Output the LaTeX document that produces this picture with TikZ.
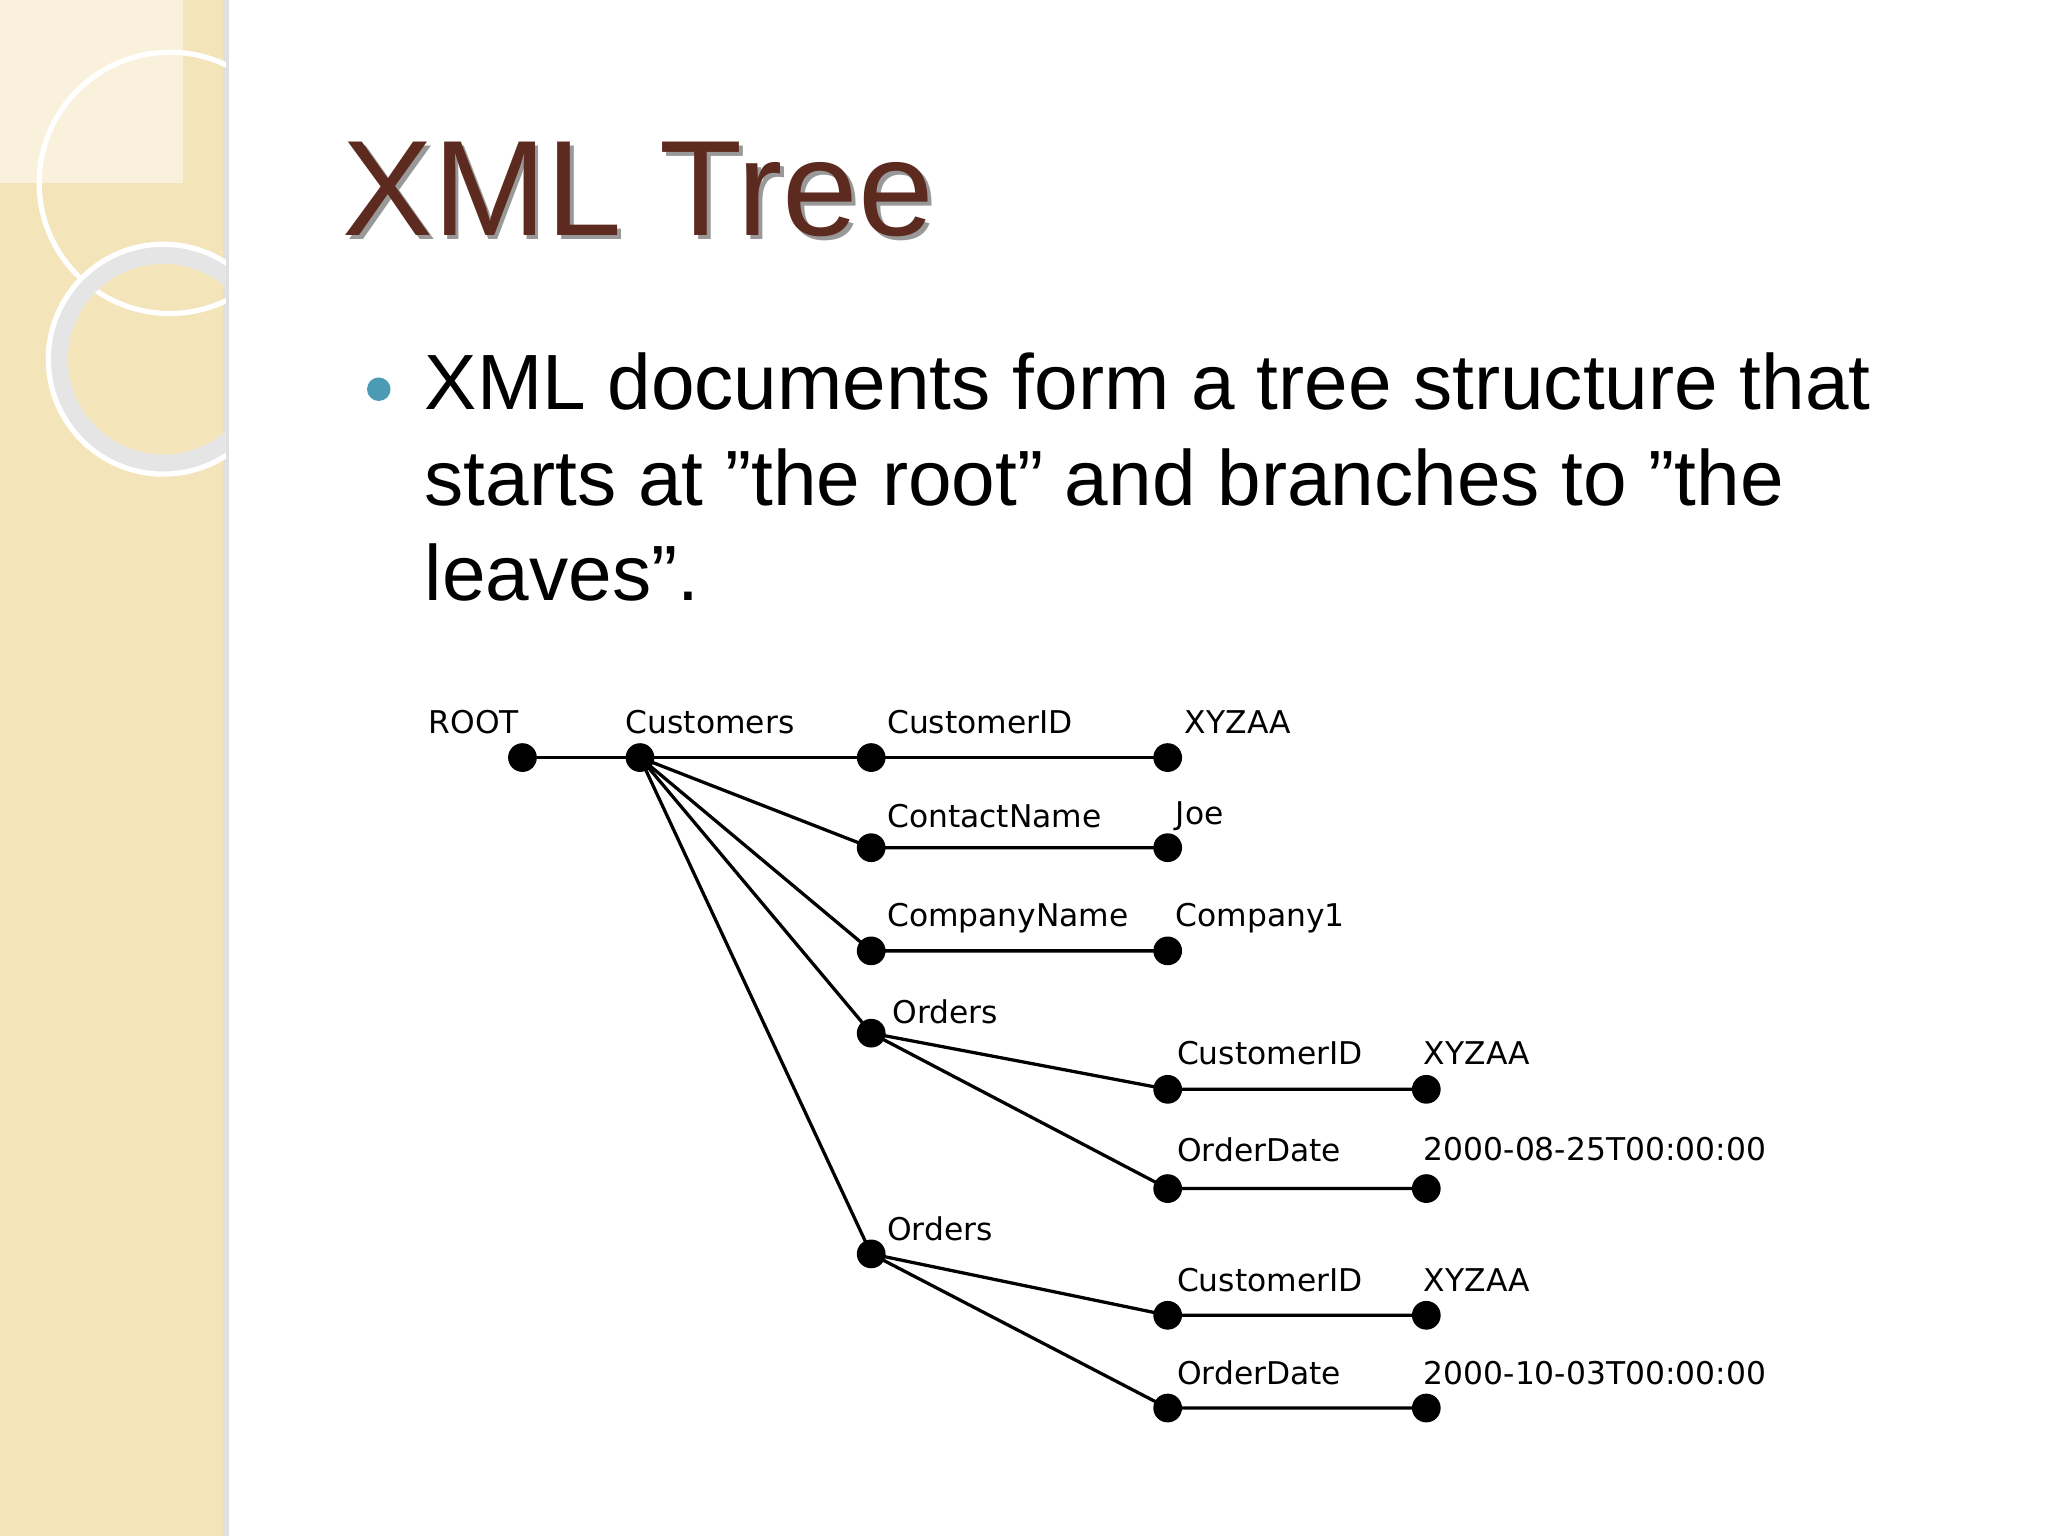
\documentclass[tikz,border=0pt]{standalone}
\usepackage{fontspec}
\setmainfont{Liberation Sans}
\newfontfamily\treefont{DejaVu Sans}
\definecolor{titlebrown}{RGB}{92,42,30}
\definecolor{bullteal}{RGB}{75,155,180}
\definecolor{bandbeige}{RGB}{243,228,186}
\begin{document}
\begin{tikzpicture}[x=1pt,y=-1pt,
  dot/.style={circle,fill=black,inner sep=0pt,minimum size=22pt},
  lbl/.style={anchor=west,inner sep=0pt,font=\treefont\fontsize{24}{28}\selectfont},
  edge/.style={line width=2.5pt}]
\useasboundingbox (0,0) rectangle (1568,1176);
\fill[white] (0,0) rectangle (1568,1176);
\fill[bandbeige] (0,0) rectangle (173,1176);
\fill[black!12] (171,0) rectangle (175,1176);
\begin{scope}
\clip (0,0) rectangle (173,1176);
\draw[white,line width=4pt] (130,140) circle (100);
\draw[black!10,line width=14pt] (125,275) circle (80);
\draw[white,line width=4pt] (125,275) circle (88);
\fill[white,opacity=0.5] (0,0) rectangle (140,140);
\end{scope}
\node[anchor=base west,inner sep=0pt,text=black!40,font=\fontsize{104}{110}\selectfont] at (265,183) {XML Tree};
\node[anchor=base west,inner sep=0pt,text=titlebrown,font=\fontsize{104}{110}\selectfont] (title) at (262,180) {XML Tree};
\fill[bullteal] (290,298) circle (9);
\node[anchor=north west,inner sep=0pt,align=left,font=\fontsize{60}{73}\selectfont] (body) at (325,270) {XML documents form a tree structure that\\starts at "the root" and branches to "the\\leaves".};
% dots
\node[dot] (root) at (400,580) {};
\node[dot] (cust) at (490,580) {};
\node[dot] (cid) at (667,580) {}; \node[dot] (cidv) at (894,580) {};
\node[dot] (cn) at (667,649) {}; \node[dot] (cnv) at (894,649) {};
\node[dot] (co) at (667,728) {}; \node[dot] (cov) at (894,728) {};
\node[dot] (o1) at (667,791) {};
\node[dot] (o1c) at (894,834) {}; \node[dot] (o1cv) at (1092,834) {};
\node[dot] (o1d) at (894,910) {}; \node[dot] (o1dv) at (1092,910) {};
\node[dot] (o2) at (667,960) {};
\node[dot] (o2c) at (894,1007) {}; \node[dot] (o2cv) at (1092,1007) {};
\node[dot] (o2d) at (894,1078) {}; \node[dot] (o2dv) at (1092,1078) {};
\draw[edge] (root.center)--(cust.center)--(cid.center)--(cidv.center);
\draw[edge] (cust.center)--(cn.center)--(cnv.center);
\draw[edge] (cust.center)--(co.center)--(cov.center);
\draw[edge] (cust.center)--(o1.center);
\draw[edge] (cust.center)--(o2.center);
\draw[edge] (o1.center)--(o1c.center)--(o1cv.center);
\draw[edge] (o1.center)--(o1d.center)--(o1dv.center);
\draw[edge] (o2.center)--(o2c.center)--(o2cv.center);
\draw[edge] (o2.center)--(o2d.center)--(o2dv.center);
% labels
\node[lbl] (l1) at (328,553) {ROOT};
\node[lbl] (l2) at (479,553) {Customers};
\node[lbl] (l3) at (679,553) {CustomerID};
\node[lbl] (l4) at (907,553) {XYZAA};
\node[lbl] (l5) at (679,625) {ContactName};
\node[lbl] (l6) at (900,625) {Joe};
\node[lbl] (l7) at (679,703) {CompanyName};
\node[lbl] (l8) at (900,703) {Company1};
\node[lbl] (l9) at (683,775) {Orders};
\node[lbl] (l10) at (901,806) {CustomerID};
\node[lbl] (l11) at (1090,806) {XYZAA};
\node[lbl] (l12) at (901,880) {OrderDate};
\node[lbl] (l13) at (1090,880) {2000-08-25T00:00:00};
\node[lbl] (l14) at (679,941) {Orders};
\node[lbl] (l15) at (901,980) {CustomerID};
\node[lbl] (l16) at (1090,980) {XYZAA};
\node[lbl] (l17) at (901,1051) {OrderDate};
\node[lbl] (l18) at (1090,1051) {2000-10-03T00:00:00};
\end{tikzpicture}
\end{document}
